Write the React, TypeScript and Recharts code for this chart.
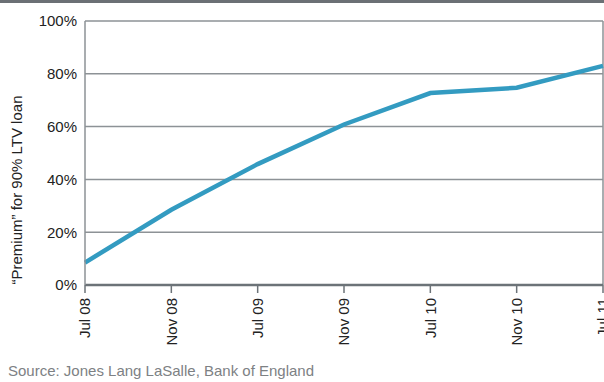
import { LineChart, Line, XAxis, YAxis, CartesianGrid, ReferenceLine, Label } from "recharts";

// survey dates and the premium charged for a 90% LTV loan (%)
const months = ["Jul 08", "Nov 08", "Jul 09", "Nov 09", "Jul 10", "Nov 10", "Jul 11"];
const premium = [8.5, 28.5, 45.8, 60.8, 72.7, 74.7, 83];
const yTicks = [0, 20, 40, 60, 80, 100];

const data = months.map((month, i) => ({ month, premium: premium[i] }));

const FONT = "'Liberation Sans', Arial, sans-serif";
const GRID = "#8d9296";
const AXIS = "#6c7378";

const MonthTick = (props: any) => {
  const { x, y, payload } = props;
  return (
    <g transform={`translate(${x},${y})`}>
      <text x={0} y={0} dy="0.36em" textAnchor="end" transform="rotate(-90)" fill="#222" fontSize={15} fontFamily={FONT}>
        {payload.value}
      </text>
    </g>
  );
};

const AxisTitle = () => (
  <text x={17} y={190} dy="0.36em" transform="rotate(-90, 17, 190)" textAnchor="middle" fill="#222" fontSize={15} fontFamily={FONT}>
    “Premium” for 90% LTV loan
  </text>
);

export default function App() {
  return (
    <div style={{ position: "absolute", left: 0, top: 0, width: 604, height: 382, background: "#fff", overflow: "hidden" }}>
      <div style={{ position: "absolute", left: 0, top: 0, width: 604, height: 3, background: "#6b7075" }} />
      <LineChart width={604} height={382} data={data} margin={{ top: 21, right: 1, bottom: 0, left: 0 }}>
        <CartesianGrid vertical={false} stroke={GRID} strokeWidth={1.5} />
        <XAxis
          dataKey="month"
          interval={0}
          axisLine={{ stroke: AXIS, strokeWidth: 2.5 }}
          tickLine={{ stroke: AXIS, strokeWidth: 1.5 }}
          tickSize={8}
          tickMargin={5}
          tick={<MonthTick />}
          height={97}
        />
        <YAxis
          domain={[0, 100]}
          ticks={yTicks}
          width={85}
          tickFormatter={(v) => `${v}%`}
          axisLine={{ stroke: GRID, strokeWidth: 1.5 }}
          tickLine={false}
          tickSize={6}
          tickMargin={2}
          tick={{ fill: "#222", fontSize: 15, fontFamily: FONT }}
        >
          <Label content={<AxisTitle />} />
        </YAxis>
        <ReferenceLine x={months[months.length - 1]} stroke={GRID} strokeWidth={1.5} />
        <Line
          type="linear"
          dataKey="premium"
          stroke="#339bc1"
          strokeWidth={4.5}
          dot={false}
          isAnimationActive={false}
        />
      </LineChart>
      <div style={{ position: "absolute", left: 8, top: 362, fontFamily: FONT, fontSize: 15, color: "#7d8184", whiteSpace: "nowrap" }}>
        Source: Jones Lang LaSalle, Bank of England
      </div>
    </div>
  );
}
